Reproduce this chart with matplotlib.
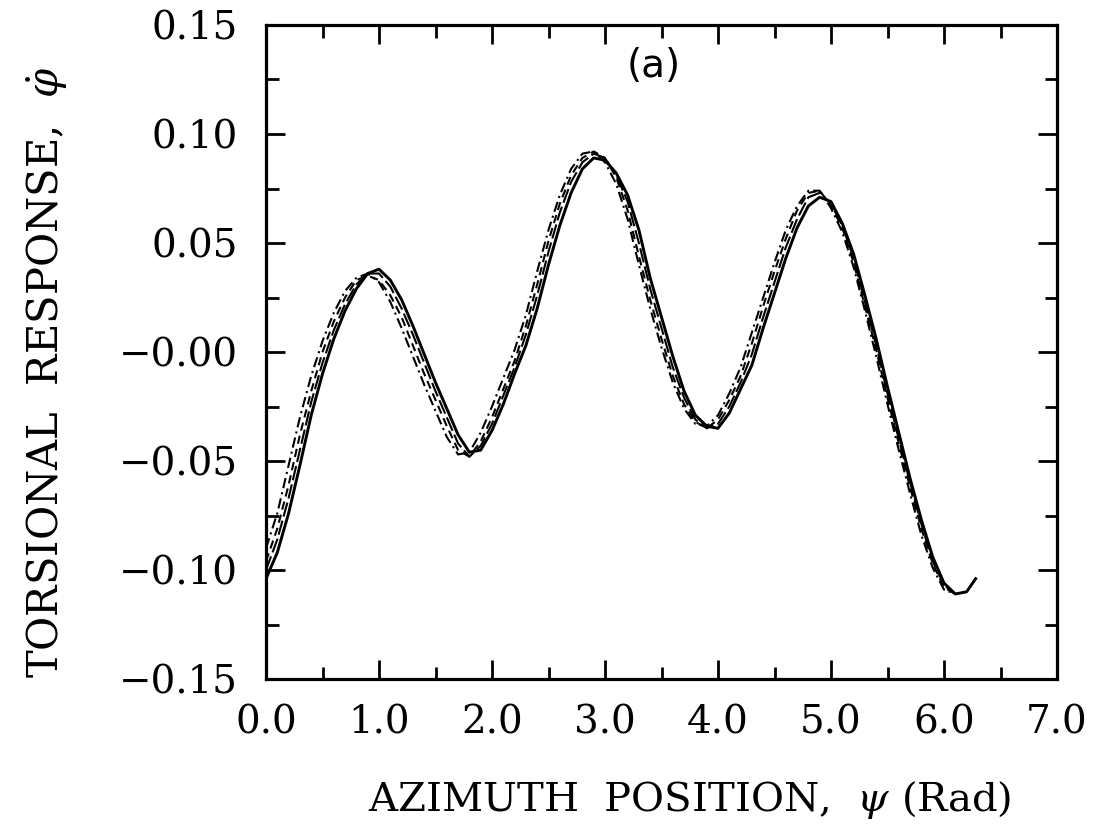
import numpy as np
import matplotlib
matplotlib.use("Agg")
import matplotlib.pyplot as plt
from matplotlib.ticker import MultipleLocator, FixedLocator, FixedFormatter

# ---------------- data ----------------
psi_solid = [0.0, 0.1, 0.2, 0.3, 0.4, 0.5, 0.6, 0.7, 0.8, 0.9,
             1.0, 1.1, 1.2, 1.3, 1.4, 1.5, 1.6, 1.7, 1.8, 1.9,
             2.0, 2.1, 2.2, 2.3, 2.4, 2.5, 2.6, 2.7, 2.8, 2.9,
             3.0, 3.1, 3.2, 3.3, 3.4, 3.5, 3.6, 3.7, 3.8, 3.9,
             4.0, 4.1, 4.2, 4.3, 4.4, 4.5, 4.6, 4.7, 4.8, 4.9,
             5.0, 5.1, 5.2, 5.3, 5.4, 5.5, 5.6, 5.7, 5.8, 5.9,
             6.0, 6.1, 6.2, 6.28]
phi_solid = [-0.104, -0.092, -0.074, -0.052, -0.029, -0.010, 0.006, 0.019, 0.029, 0.036,
             0.038, 0.033, 0.024, 0.012, -0.001, -0.014, -0.026, -0.038, -0.046, -0.045,
             -0.036, -0.024, -0.010, 0.003, 0.020, 0.040, 0.058, 0.073, 0.084, 0.089,
             0.088, 0.082, 0.072, 0.056, 0.034, 0.016, -0.002, -0.018, -0.029, -0.034,
             -0.035, -0.028, -0.017, -0.006, 0.011, 0.027, 0.043, 0.057, 0.067, 0.071,
             0.069, 0.059, 0.045, 0.026, 0.006, -0.016, -0.037, -0.058, -0.077, -0.094,
             -0.106, -0.111, -0.110, -0.104]

psi_other = [0.0, 0.1, 0.2, 0.3, 0.4, 0.5, 0.6, 0.7, 0.8, 0.9,
             1.0, 1.1, 1.2, 1.3, 1.4, 1.5, 1.6, 1.7, 1.8, 1.9,
             2.0, 2.1, 2.2, 2.3, 2.4, 2.5, 2.6, 2.7, 2.8, 2.9,
             3.0, 3.1, 3.2, 3.3, 3.4, 3.5, 3.6, 3.7, 3.8, 3.9,
             4.0, 4.1, 4.2, 4.3, 4.4, 4.5, 4.6, 4.7, 4.8, 4.9,
             5.0, 5.1, 5.2, 5.3, 5.4, 5.5, 5.6, 5.7, 5.8, 5.9,
             6.0, 6.1]
phi_dash = [-0.096, -0.081, -0.061, -0.038, -0.018, 0.000, 0.014, 0.025, 0.033, 0.035,
            0.033, 0.026, 0.016, 0.003, -0.010, -0.022, -0.034, -0.045, -0.048, -0.041,
            -0.030, -0.017, -0.004, 0.012, 0.031, 0.051, 0.068, 0.081, 0.089, 0.092,
            0.089, 0.080, 0.065, 0.044, 0.024, 0.006, -0.011, -0.024, -0.032, -0.035,
            -0.031, -0.022, -0.011, 0.004, 0.021, 0.037, 0.052, 0.065, 0.073, 0.074,
            0.067, 0.057, 0.041, 0.021, 0.001, -0.021, -0.042, -0.062, -0.081, -0.097,
            -0.108, -0.111]
phi_dashdot = [-0.090, -0.074, -0.052, -0.030, -0.011, 0.005, 0.018, 0.028, 0.034, 0.036,
               0.032, 0.023, 0.011, -0.002, -0.015, -0.027, -0.039, -0.047, -0.046, -0.037,
               -0.025, -0.012, 0.001, 0.017, 0.037, 0.056, 0.072, 0.084, 0.091, 0.092,
               0.087, 0.077, 0.061, 0.040, 0.020, 0.002, -0.014, -0.026, -0.033, -0.034,
               -0.029, -0.019, -0.007, 0.009, 0.025, 0.041, 0.056, 0.067, 0.074, 0.074,
               0.066, 0.055, 0.039, 0.019, -0.002, -0.024, -0.045, -0.065, -0.084, -0.099,
               -0.109, -0.111]
phi_longdash = [-0.100, -0.086, -0.067, -0.045, -0.023, -0.005, 0.010, 0.022, 0.031, 0.036,
                0.036, 0.030, 0.020, 0.008, -0.005, -0.018, -0.030, -0.042, -0.048, -0.043,
                -0.033, -0.020, -0.007, 0.008, 0.026, 0.046, 0.064, 0.078, 0.087, 0.091,
                0.089, 0.081, 0.069, 0.050, 0.029, 0.011, -0.007, -0.021, -0.031, -0.035,
                -0.033, -0.025, -0.014, -0.001, 0.016, 0.032, 0.048, 0.061, 0.071, 0.073,
                0.068, 0.058, 0.043, 0.023, 0.003, -0.019, -0.040, -0.060, -0.079, -0.096,
                -0.107, -0.111]

x_ticks = [0.0, 1.0, 2.0, 3.0, 4.0, 5.0, 6.0, 7.0]
x_ticklabels = ["0.0", "1.0", "2.0", "3.0", "4.0", "5.0", "6.0", "7.0"]
y_ticks = [-0.15, -0.10, -0.05, 0.0, 0.05, 0.10, 0.15]
y_ticklabels = ["\u22120.15", "\u22120.10", "\u22120.05", "\u22120.00", "0.05", "0.10", "0.15"]

# ---------------- figure ----------------
plt.rcParams['mathtext.fontset'] = 'dejavuserif'
W, H = 1105, 831
fig = plt.figure(figsize=(W / 100, H / 100), dpi=100)
left, right, top, bottom = 266, 1057, 25, 679
ax = fig.add_axes([left / W, 1 - bottom / H, (right - left) / W, (bottom - top) / H])

ax.plot(psi_solid, phi_solid, color='black', lw=2.1, ls='-')
ax.plot(psi_other, phi_dash, color='black', lw=1.5, ls=(0, (4, 2.5)))
ax.plot(psi_other, phi_dashdot, color='black', lw=1.5, ls=(0, (5, 2, 1, 2)))
ax.plot(psi_other, phi_longdash, color='black', lw=1.5, ls=(0, (7, 2)))

ax.set_xlim(0, 7.0)
ax.set_ylim(-0.15, 0.15)

ax.xaxis.set_major_locator(FixedLocator(x_ticks))
ax.xaxis.set_major_formatter(FixedFormatter(x_ticklabels))
ax.xaxis.set_minor_locator(MultipleLocator(0.5))
ax.yaxis.set_major_locator(FixedLocator(y_ticks))
ax.yaxis.set_major_formatter(FixedFormatter(y_ticklabels))
ax.yaxis.set_minor_locator(MultipleLocator(0.025))

ax.tick_params(which='both', direction='in', top=True, right=True, width=2.0, color='black')
ax.tick_params(which='major', length=14)
ax.tick_params(which='minor', length=9)
ax.tick_params(axis='x', which='major', pad=18)
ax.tick_params(axis='y', which='major', pad=20)
for lab in ax.get_xticklabels() + ax.get_yticklabels():
    lab.set_fontfamily('DejaVu Serif')
    lab.set_fontsize(28)
for s in ax.spines.values():
    s.set_linewidth(2.3)

ax.set_xlabel(r"AZIMUTH  POSITION,  $\psi$ (Rad)", fontfamily='DejaVu Serif', fontsize=29)
ax.xaxis.set_label_coords(0.536, -0.185)
ax.xaxis.label.set_va('center')
ax.set_ylabel(r"TORSIONAL  RESPONSE,  $\dot{\varphi}$", fontfamily='DejaVu Serif', fontsize=30)
ax.yaxis.set_label_coords(-0.276, 0.469)
ax.yaxis.label.set_va('center')

ax.text(0.49, 0.937, "(a)", transform=ax.transAxes, ha='center', va='center',
        fontfamily='DejaVu Sans', fontsize=28)

fig.savefig("out.png", dpi=100)
